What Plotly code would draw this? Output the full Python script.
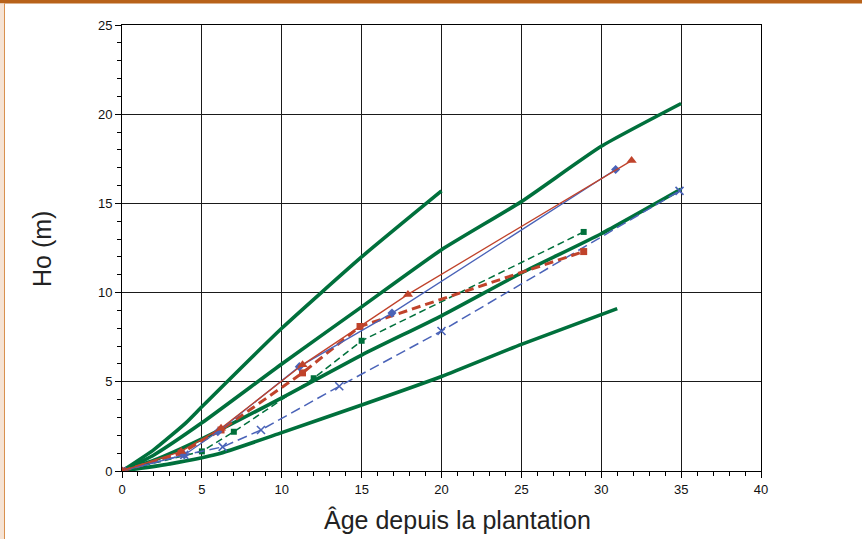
import plotly.graph_objects as go

# Reference height-growth curves (site-index classes)
curve1_age = [0, 2, 4, 5, 10, 15, 20]
curve1_ho = [0, 1.2, 2.7, 3.6, 8.0, 12.0, 15.7]

curve2_age = [0, 2, 5, 10, 15, 20, 25, 30, 35]
curve2_ho = [0, 0.9, 2.7, 6.0, 9.2, 12.4, 15.1, 18.2, 20.6]

curve3_age = [0, 2, 5, 10, 15, 20, 25, 30, 35]
curve3_ho = [0, 0.6, 1.8, 4.1, 6.5, 8.7, 11.1, 13.3, 15.8]

curve4_age = [0, 3, 6, 10, 15, 20, 25, 31]
curve4_ho = [0, 0.4, 0.95, 2.15, 3.7, 5.3, 7.1, 9.1]

# Measured stands
blue_solid_age = [0, 3.9, 6.0, 11.1, 16.9, 30.9]
blue_solid_ho = [0, 0.9, 2.2, 5.85, 8.85, 16.9]

red_solid_age = [0, 3.7, 6.2, 11.3, 17.9, 31.9]
red_solid_ho = [0, 1.1, 2.4, 5.95, 9.9, 17.4]

red_dash_age = [0, 3.7, 6.2, 11.3, 14.9, 28.9]
red_dash_ho = [0, 1.0, 2.3, 5.5, 8.1, 12.3]

green_dash_age = [0, 5.0, 7.0, 12.0, 15.0, 28.9]
green_dash_ho = [0, 1.1, 2.2, 5.2, 7.3, 13.4]

blue_dash_age = [0, 3.9, 6.3, 8.7, 13.6, 20.0, 34.9]
blue_dash_ho = [0, 0.9, 1.35, 2.3, 4.75, 7.85, 15.7]

x_ticks = [0, 5, 10, 15, 20, 25, 30, 35, 40]
y_ticks = [0, 5, 10, 15, 20, 25]

x_title = "Âge depuis la plantation"
y_title = "Ho (m)"

GREEN = "#00703C"
RED = "#C0432B"
BLUE = "#4A63B8"
FONT = "Arial"

fig = go.Figure()

for ages, hos in [(curve1_age, curve1_ho), (curve2_age, curve2_ho),
                  (curve3_age, curve3_ho), (curve4_age, curve4_ho)]:
    fig.add_trace(go.Scatter(x=ages, y=hos, mode="lines",
                             line=dict(color=GREEN, width=3.6, shape="spline", smoothing=0.5)))

fig.add_trace(go.Scatter(x=green_dash_age, y=green_dash_ho, mode="lines+markers",
                         line=dict(color=GREEN, width=1.5, dash="7px,4px"),
                         marker=dict(symbol="square", size=6, color=GREEN)))
fig.add_trace(go.Scatter(x=blue_dash_age, y=blue_dash_ho, mode="lines+markers",
                         line=dict(color=BLUE, width=1.5, dash="10px,5px"),
                         marker=dict(symbol="x-thin-open", size=8,
                                     line=dict(color=BLUE, width=1.6))))
fig.add_trace(go.Scatter(x=red_dash_age, y=red_dash_ho, mode="lines+markers",
                         line=dict(color=RED, width=3, dash="9px,5px"),
                         marker=dict(symbol="square", size=7, color=RED)))
fig.add_trace(go.Scatter(x=blue_solid_age, y=blue_solid_ho, mode="lines+markers",
                         line=dict(color=BLUE, width=1.3),
                         marker=dict(symbol="diamond", size=7, color=BLUE)))
fig.add_trace(go.Scatter(x=red_solid_age, y=red_solid_ho, mode="lines+markers",
                         line=dict(color=RED, width=1.3),
                         marker=dict(symbol="triangle-up", size=9, color=RED)))

axis_common = dict(
    showgrid=True, gridcolor="#1a1a1a", gridwidth=1,
    showline=True, linecolor="#000000", linewidth=1, mirror=True,
    zeroline=False, ticks="outside", ticklen=6, tickcolor="#000000",
    tickfont=dict(family=FONT, size=13, color="#111111"),
    minor=dict(ticks="outside", ticklen=4, dtick=1, tickcolor="#000000", showgrid=False),
)

fig.update_xaxes(range=[0, 40], tickvals=x_ticks, **axis_common)
fig.update_yaxes(range=[0, 25], tickvals=y_ticks, **axis_common)

PLOT_W, PLOT_H = 639, 446

fig.update_layout(
    width=862, height=539,
    margin=dict(l=122, r=101, t=25, b=68),
    paper_bgcolor="#FFFFFF", plot_bgcolor="#FFFFFF",
    showlegend=False,
    annotations=[
        dict(text=x_title, xref="paper", yref="paper",
             x=(457 - 122) / PLOT_W, y=-49 / PLOT_H, xanchor="center", yanchor="middle",
             showarrow=False, font=dict(family=FONT, size=25, color="#222222")),
        dict(text=y_title, xref="paper", yref="paper", textangle=-90,
             x=-80 / PLOT_W, y=(471 - 249) / PLOT_H, xanchor="center", yanchor="middle",
             showarrow=False, font=dict(family=FONT, size=25, color="#222222")),
    ],
    shapes=[
        dict(type="rect", xref="paper", yref="paper",
             x0=-122 / PLOT_W, x1=(862 - 122) / PLOT_W, y0=1 + 21.5 / PLOT_H, y1=1 + 25.5 / PLOT_H,
             fillcolor="#B8621A", line=dict(width=0), layer="below"),
        dict(type="rect", xref="paper", yref="paper",
             x0=-122 / PLOT_W, x1=-118 / PLOT_W, y0=-68 / PLOT_H, y1=1 + 21.5 / PLOT_H,
             fillcolor="#F6E3D4", line=dict(width=0), layer="below"),
        dict(type="rect", xref="paper", yref="paper",
             x0=-118 / PLOT_W, x1=-117 / PLOT_W, y0=-68 / PLOT_H, y1=1 + 21.5 / PLOT_H,
             fillcolor="#D9904E", line=dict(width=0), layer="below"),
    ],
)

fig.write_html("out.html")
